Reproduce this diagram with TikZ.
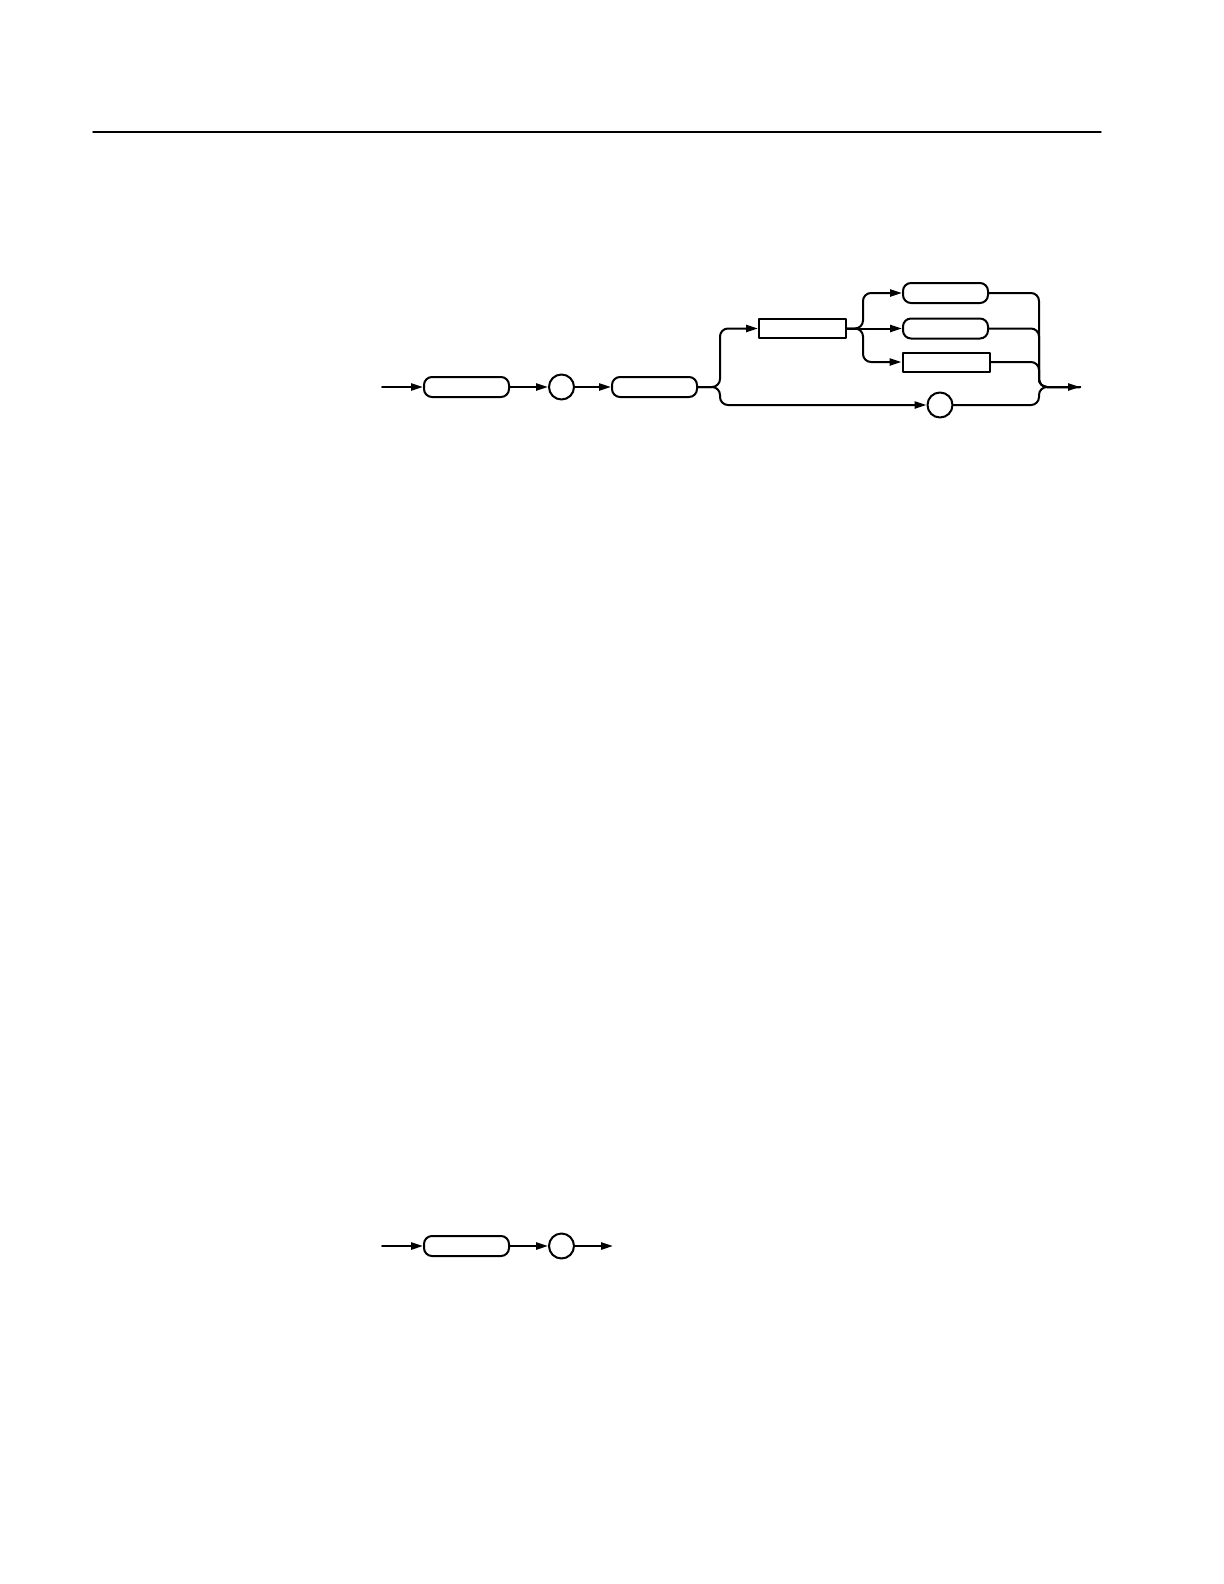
\documentclass[tikz,border=0pt]{standalone}
\usetikzlibrary{arrows.meta}
\begin{document}
\begin{tikzpicture}[line cap=round,line join=round,>={Triangle[length=6pt,width=3.6pt]},x=0.5pt,y=-0.5pt,line width=1pt,
  term/.style={draw,rounded corners=4pt,minimum width=42.5pt,minimum height=10pt,inner sep=0pt},
  nonterm/.style={draw,minimum width=43.5pt,minimum height=9.5pt,inner sep=0pt},
  circ/.style={draw,circle,minimum size=12.5pt,inner sep=0pt},
  brace/.style={rounded corners=4pt}]
\useasboundingbox (0,0) rectangle (1224,1584);
\draw [line width=0.7pt] (93,132)--(1101,132);
% upper diagram
\coordinate (startT) at (382,387);
\node[term] (t1) at (466.5,387) {};
\node[circ] (c1) at (561.5,387) {};
\node[term] (t2) at (654.5,387) {};
\node[nonterm] (n1) at (802.5,328.5) {};
\node[term] (t3) at (945.5,293) {};
\node[term] (t4) at (945.5,328.5) {};
\node[nonterm] (n2) at (946,362) {};
\node[circ] (c2) at (940,405) {};
\coordinate (splitA) at (720,387);
\coordinate (splitB) at (863,328.5);
\coordinate (joinA) at (1039,387);
\coordinate (endT) at (1080,387);
\draw [->] (startT) -- (t1);
\draw [->] (t1) -- (c1);
\draw [->] (c1) -- (t2);
\draw [->,brace] (t2.east) -- (splitA) -- (splitA |- n1) -- (n1.west);
\draw [->,brace] (t2.east) -- (splitA) -- (splitA |- c2) -- (c2.west);
\draw [->,brace] (n1.east) -- (splitB) -- (splitB |- t3) -- (t3.west);
\draw [->] (n1.east) -- (t4.west);
\draw [->,brace] (n1.east) -- (splitB) -- (splitB |- n2) -- (n2.west);
\draw [->,brace] (t3.east) -- (joinA |- t3) -- (joinA) -- (endT);
\draw [brace] (t4.east) -- (joinA |- t4) -- (joinA) -- (endT);
\draw [brace] (n2.east) -- (joinA |- n2) -- (joinA) -- (endT);
\draw [brace] (c2.east) -- (joinA |- c2) -- (joinA) -- (endT);
% lower diagram
\coordinate (startB) at (382,1246);
\node[term] (b1) at (466.5,1246) {};
\node[circ] (b2) at (561.5,1246) {};
\coordinate (endB) at (613,1246);
\draw [->] (startB) -- (b1);
\draw [->] (b1) -- (b2);
\draw [->] (b2) -- (endB);
\end{tikzpicture}
\end{document}
